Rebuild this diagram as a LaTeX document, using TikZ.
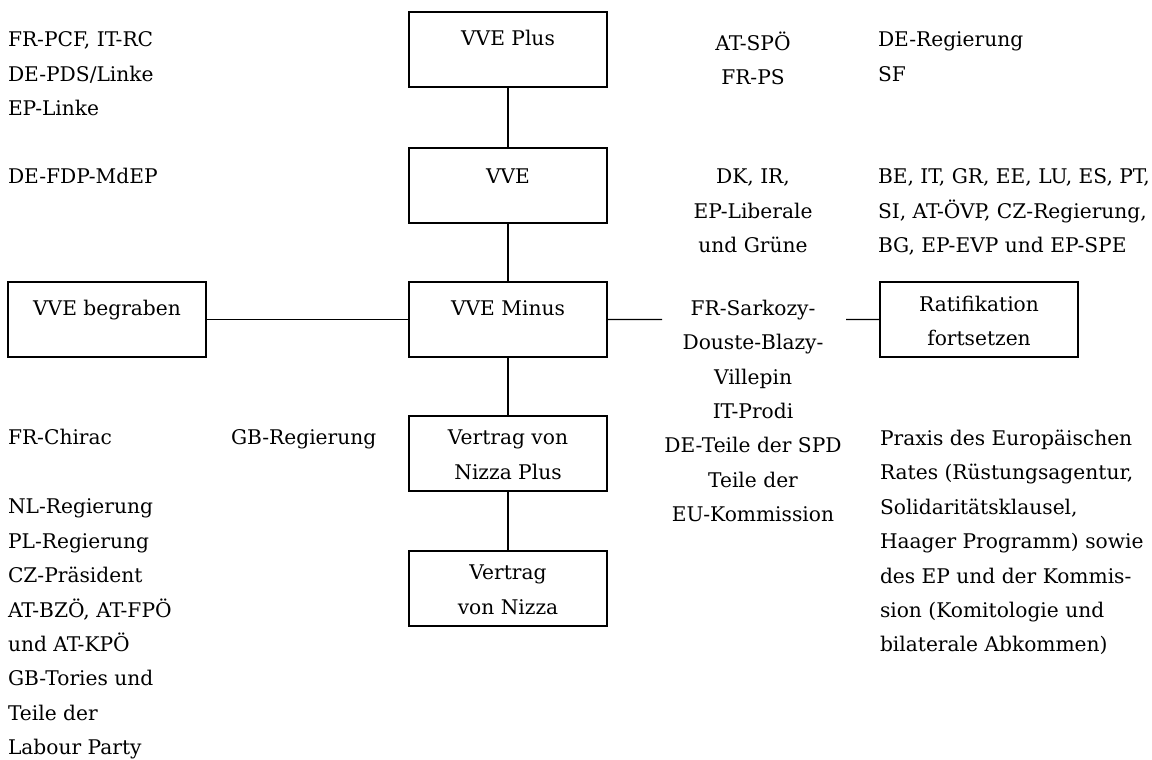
\documentclass[tikz,border=0pt]{standalone}
\usepackage{fontspec}
\setmainfont{DejaVu Serif}
\newcommand{\fs}{\fontsize{20.2bp}{34.4bp}\selectfont}
\tikzset{
  txt/.style={inner sep=0pt, outer sep=0pt, font=\fs, execute at begin node={\rule{0pt}{20bp}}},
  lt/.style={txt, align=left, anchor=north west},
  ct/.style={txt, align=center, anchor=north},
  box/.style={draw, line width=1.4bp, minimum width=198bp, minimum height=75bp, inner sep=0pt, outer sep=0pt, anchor=north west},
  conn/.style={line width=1.2bp}
}
\begin{document}
\begin{tikzpicture}[x=1bp, y=-1bp]
\useasboundingbox (0,0) rectangle (1152,760);
% boxes
\node[box] (plus) at (409,12) {};
\node[box] (vve) at (409,148) {};
\node[box] (minus) at (409,282) {};
\node[box] (begr) at (8,282) {};
\node[box] (ratif) at (880,282) {};
\node[box] (nplus) at (409,416) {};
\node[box] (nizza) at (409,551) {};
% box texts
\node[ct] (tplus) at (508,26) {VVE Plus};
\node[ct] (tvve) at (508,163) {VVE};
\node[ct] (tminus) at (508,295) {VVE Minus};
\node[ct] (tbegr) at (107,295) {VVE begraben};
\node[ct] (tratif) at (979,296) {Ratifikation\\fortsetzen};
\node[ct] (tnplus) at (508,430) {Vertrag von\\Nizza Plus};
\node[ct] (tnizza) at (508,565) {Vertrag\\von Nizza};
% connectors
\draw[conn] (plus.south) -- (vve.north);
\draw[conn] (vve.south) -- (minus.north);
\draw[conn] (minus.south) -- (nplus.north);
\draw[conn] (nplus.south) -- (nizza.north);
\draw[conn] (begr.east) -- (minus.west);
\coordinate (c1) at (662,319.5);
\coordinate (c2) at (846,319.5);
\draw[conn] (minus.east) -- (c1);
\draw[conn] (c2) -- (ratif.west);
% left column
\node[lt] (l1) at (8,32) {FR-PCF, IT-RC\\DE-PDS/Linke\\EP-Linke};
\node[lt] (l2) at (8,163) {DE-FDP-MdEP};
\node[lt] (l3) at (8,424) {FR-Chirac};
\node[lt] (l4) at (8,499) {NL-Regierung\\PL-Regierung\\CZ-Präsident\\AT-BZÖ, AT-FPÖ\\und AT-KPÖ\\GB-Tories und\\Teile der\\Labour Party};
\node[lt] (gb) at (231,424) {GB-Regierung};
% middle column
\node[ct] (m1) at (753,32) {AT-SPÖ\\FR-PS};
\node[ct] (m2) at (753,169) {DK, IR,\\EP-Liberale\\und Grüne};
\node[ct] (m3) at (753,300) {FR-Sarkozy-\\Douste-Blazy-\\Villepin\\IT-Prodi\\DE-Teile der SPD\\Teile der\\EU-Kommission};
% right column
\node[lt] (r1) at (878,32) {DE-Regierung\\SF};
\node[lt] (r2) at (878,169) {BE, IT, GR, EE, LU, ES, PT,\\SI, AT-ÖVP, CZ-Regierung,\\BG, EP-EVP und EP-SPE};
\node[lt] (r3) at (880,430) {Praxis des Europäischen\\Rates (Rüstungsagentur,\\Solidaritätsklausel,\\Haager Programm) sowie\\des EP und der Kommis-\\sion (Komitologie und\\bilaterale Abkommen)};
\end{tikzpicture}
\end{document}
